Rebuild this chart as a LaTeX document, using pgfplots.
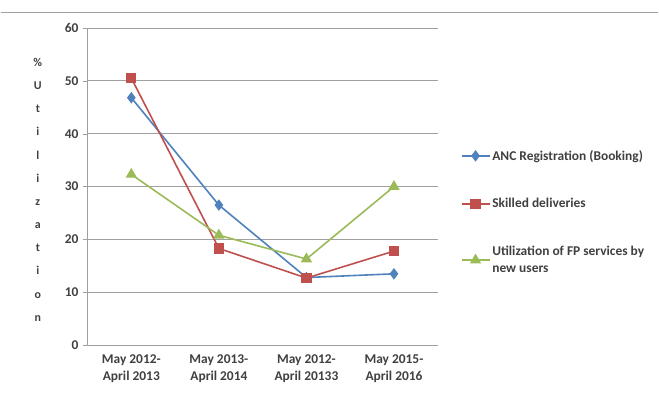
\documentclass[border=0pt]{standalone}
\usepackage{pgfplots}
\pgfplotsset{compat=1.18}
\usepackage{fontspec}
\setmainfont{Carlito}

\definecolor{ancblue}{HTML}{4F81BD}
\definecolor{skred}{HTML}{C0504D}
\definecolor{fpgreen}{HTML}{9BBB59}
\definecolor{gridgray}{HTML}{A0A0A0}
\definecolor{txt}{HTML}{404040}

\begin{document}
\begin{tikzpicture}[x=1bp,y=1bp]
\path (0,0) rectangle (659,412);
\draw[gridgray, line width=1.5bp] (0,399.5) -- (659,399.5);
\begin{axis}[
    at={(87bp,66bp)}, anchor=origin,
    scale only axis,
    width=351bp, height=318bp,
    xmin=0.5, xmax=4.5,
    ymin=0, ymax=60,
    /pgf/number format/assume math mode=true,
    xtick={1,2,3,4},
    xticklabels={{May 2012-\\April 2013},{May 2013-\\April 2014},{May 2012-\\April 20133},{May 2015-\\April 2016}},
    x tick label style={align=center, font=\fontsize{13.5}{17}\selectfont\bfseries, text=txt},
    extra x ticks={0.5,1.5,2.5,3.5,4.5},
    extra x tick labels={},
    extra x tick style={major tick length=5bp, tick style={gridgray}, grid=none},
    ytick={0,10,...,60},
    y tick label style={font=\fontsize{13.5}{15}\selectfont\bfseries, text=txt},
    major tick length=5bp,
    xtick style={draw=none},
    ytick style={gridgray},
    tick align=outside,
    ymajorgrids,
    grid style={gridgray, line width=0.8bp},
    axis x line*=bottom, axis y line*=left,
    axis line style={gridgray, line width=0.8bp, -},
    ylabel={\%\\U\\t\\i\\l\\i\\z\\a\\t\\i\\o\\n},
    every axis y label/.style={at={(axis description cs:-0.142,0.49)}, anchor=center,
        rotate=0, align=center, font=\fontsize{12}{23.3}\selectfont\bfseries, text=txt},
    legend style={at={(axis description cs:1.055,0.63)}, anchor=north west,
        draw=none, fill=none, font=\fontsize{13.5}{17}\selectfont\bfseries, text=txt,
        cells={anchor=west, align=left}, row sep=33bp},
    legend image code/.code={
        \draw[#1, mark repeat=2, mark phase=2] plot coordinates {(0bp,0bp) (14bp,0bp) (28bp,0bp)};},
    line width=1.6bp,
]
\addplot[ancblue, mark=diamond*, mark size=4.5bp, mark options={fill=ancblue}]
    coordinates {(1,46.8) (2,26.5) (3,12.8) (4,13.5)};
\addlegendentry{ANC Registration (Booking)}
\addplot[skred, mark=square*, mark size=4.3bp, mark options={fill=skred}]
    coordinates {(1,50.5) (2,18.3) (3,12.7) (4,17.8)};
\addlegendentry{Skilled deliveries}
\addplot[fpgreen, mark=triangle*, mark size=5bp, mark options={fill=fpgreen}]
    coordinates {(1,32.3) (2,20.8) (3,16.3) (4,30.0)};
\addlegendentry{Utilization of FP services by\\new users}
\end{axis}
\end{tikzpicture}
\end{document}
